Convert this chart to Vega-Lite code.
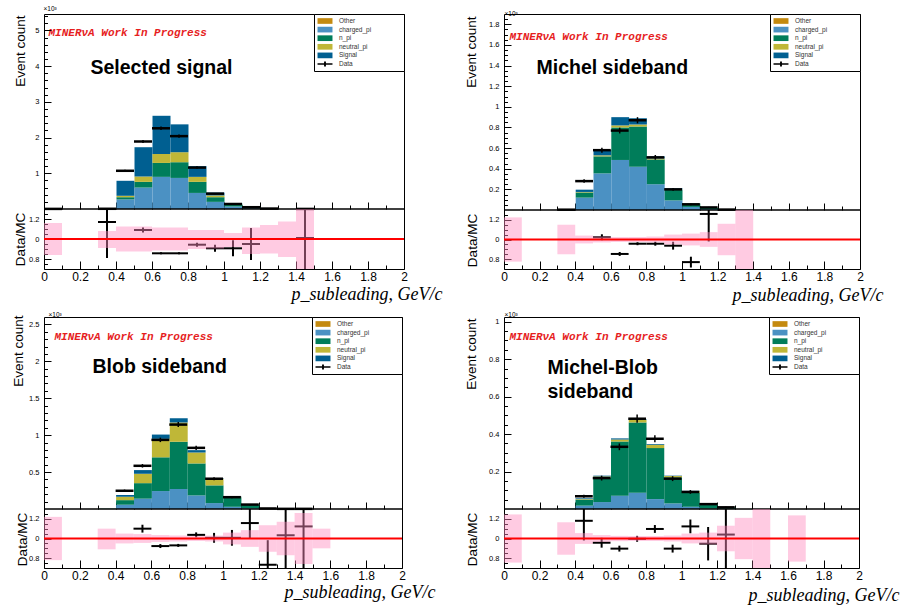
{
"$schema": "https://vega.github.io/schema/vega-lite/v6.json",
"background": "white",
"padding": {"left": 10, "top": 4, "right": 0, "bottom": 0},
"autosize": {"type": "pad"},
"bounds": "flush",
"columns": 2,
"spacing": {"row": 48, "column": 100},
"config": {
 "font": "Liberation Sans",
 "view": {"stroke": "black", "strokeWidth": 1},
 "axis": {"domain": false, "grid": false, "tickColor": "black", "tickWidth": 1, "labelFont": "Liberation Sans", "labelColor": "black", "labelFontSize": 7.5, "titleFont": "Liberation Sans", "titleColor": "black", "titleFontWeight": "normal", "labelFlush": false, "labelOverlap": false, "labelBound": false, "zindex": 1},
 "legend": {"orient": "top-right", "offset": 0, "fillColor": "white", "strokeColor": "black", "padding": 3, "labelFontSize": 6.5, "labelColor": "#333333", "labelFont": "Liberation Sans", "symbolSize": 56, "symbolStrokeWidth": 0, "symbolOpacity": 1, "symbolOffset": 4, "labelOffset": 10, "rowPadding": 0.6, "titleOrient": "right", "titlePadding": 30, "titleFontSize": 6, "zindex": 2}
},
"datasets": {
 "mc": [
  {"p":1,"c":"Signal","k":4,"lo":0.3,"hi":0.4,"v":0.006},
  {"p":1,"c":"charged_pi","k":1,"lo":0.4,"hi":0.5,"v":0.27},{"p":1,"c":"n_pi","k":2,"lo":0.4,"hi":0.5,"v":0.06},{"p":1,"c":"neutral_pi","k":3,"lo":0.4,"hi":0.5,"v":0.04},{"p":1,"c":"Signal","k":4,"lo":0.4,"hi":0.5,"v":0.42},
  {"p":1,"c":"charged_pi","k":1,"lo":0.5,"hi":0.6,"v":0.60},{"p":1,"c":"n_pi","k":2,"lo":0.5,"hi":0.6,"v":0.16},{"p":1,"c":"neutral_pi","k":3,"lo":0.5,"hi":0.6,"v":0.15},{"p":1,"c":"Signal","k":4,"lo":0.5,"hi":0.6,"v":0.82},
  {"p":1,"c":"charged_pi","k":1,"lo":0.6,"hi":0.7,"v":0.90},{"p":1,"c":"n_pi","k":2,"lo":0.6,"hi":0.7,"v":0.39},{"p":1,"c":"neutral_pi","k":3,"lo":0.6,"hi":0.7,"v":0.25},{"p":1,"c":"Signal","k":4,"lo":0.6,"hi":0.7,"v":1.07},
  {"p":1,"c":"charged_pi","k":1,"lo":0.7,"hi":0.8,"v":0.87},{"p":1,"c":"n_pi","k":2,"lo":0.7,"hi":0.8,"v":0.44},{"p":1,"c":"neutral_pi","k":3,"lo":0.7,"hi":0.8,"v":0.28},{"p":1,"c":"Signal","k":4,"lo":0.7,"hi":0.8,"v":0.78},
  {"p":1,"c":"charged_pi","k":1,"lo":0.8,"hi":0.9,"v":0.45},{"p":1,"c":"n_pi","k":2,"lo":0.8,"hi":0.9,"v":0.31},{"p":1,"c":"neutral_pi","k":3,"lo":0.8,"hi":0.9,"v":0.14},{"p":1,"c":"Signal","k":4,"lo":0.8,"hi":0.9,"v":0.30},
  {"p":1,"c":"charged_pi","k":1,"lo":0.9,"hi":1.0,"v":0.20},{"p":1,"c":"n_pi","k":2,"lo":0.9,"hi":1.0,"v":0.13},{"p":1,"c":"neutral_pi","k":3,"lo":0.9,"hi":1.0,"v":0.05},{"p":1,"c":"Signal","k":4,"lo":0.9,"hi":1.0,"v":0.08},
  {"p":1,"c":"charged_pi","k":1,"lo":1.0,"hi":1.1,"v":0.07},{"p":1,"c":"n_pi","k":2,"lo":1.0,"hi":1.1,"v":0.05},{"p":1,"c":"neutral_pi","k":3,"lo":1.0,"hi":1.1,"v":0.01},{"p":1,"c":"Signal","k":4,"lo":1.0,"hi":1.1,"v":0.02},
  {"p":1,"c":"charged_pi","k":1,"lo":1.1,"hi":1.2,"v":0.02},{"p":1,"c":"n_pi","k":2,"lo":1.1,"hi":1.2,"v":0.02},{"p":1,"c":"neutral_pi","k":3,"lo":1.1,"hi":1.2,"v":0.003},{"p":1,"c":"Signal","k":4,"lo":1.1,"hi":1.2,"v":0.007},
  {"p":1,"c":"charged_pi","k":1,"lo":1.2,"hi":1.3,"v":0.004},{"p":1,"c":"n_pi","k":2,"lo":1.2,"hi":1.3,"v":0.004},{"p":1,"c":"neutral_pi","k":3,"lo":1.2,"hi":1.3,"v":0.001},{"p":1,"c":"Signal","k":4,"lo":1.2,"hi":1.3,"v":0.002},

  {"p":2,"c":"n_pi","k":2,"lo":0.3,"hi":0.4,"v":0.003},
  {"p":2,"c":"charged_pi","k":1,"lo":0.4,"hi":0.5,"v":0.12},{"p":2,"c":"n_pi","k":2,"lo":0.4,"hi":0.5,"v":0.05},{"p":2,"c":"neutral_pi","k":3,"lo":0.4,"hi":0.5,"v":0.005},{"p":2,"c":"Signal","k":4,"lo":0.4,"hi":0.5,"v":0.022},
  {"p":2,"c":"charged_pi","k":1,"lo":0.5,"hi":0.6,"v":0.355},{"p":2,"c":"n_pi","k":2,"lo":0.5,"hi":0.6,"v":0.165},{"p":2,"c":"neutral_pi","k":3,"lo":0.5,"hi":0.6,"v":0.01},{"p":2,"c":"Signal","k":4,"lo":0.5,"hi":0.6,"v":0.05},
  {"p":2,"c":"charged_pi","k":1,"lo":0.6,"hi":0.7,"v":0.485},{"p":2,"c":"n_pi","k":2,"lo":0.6,"hi":0.7,"v":0.315},{"p":2,"c":"neutral_pi","k":3,"lo":0.6,"hi":0.7,"v":0.02},{"p":2,"c":"Signal","k":4,"lo":0.6,"hi":0.7,"v":0.08},
  {"p":2,"c":"charged_pi","k":1,"lo":0.7,"hi":0.8,"v":0.42},{"p":2,"c":"n_pi","k":2,"lo":0.7,"hi":0.8,"v":0.39},{"p":2,"c":"neutral_pi","k":3,"lo":0.7,"hi":0.8,"v":0.02},{"p":2,"c":"Signal","k":4,"lo":0.7,"hi":0.8,"v":0.06},
  {"p":2,"c":"charged_pi","k":1,"lo":0.8,"hi":0.9,"v":0.25},{"p":2,"c":"n_pi","k":2,"lo":0.8,"hi":0.9,"v":0.24},{"p":2,"c":"neutral_pi","k":3,"lo":0.8,"hi":0.9,"v":0.01},{"p":2,"c":"Signal","k":4,"lo":0.8,"hi":0.9,"v":0.02},
  {"p":2,"c":"charged_pi","k":1,"lo":0.9,"hi":1.0,"v":0.093},{"p":2,"c":"n_pi","k":2,"lo":0.9,"hi":1.0,"v":0.104},{"p":2,"c":"neutral_pi","k":3,"lo":0.9,"hi":1.0,"v":0.003},{"p":2,"c":"Signal","k":4,"lo":0.9,"hi":1.0,"v":0.01},
  {"p":2,"c":"charged_pi","k":1,"lo":1.0,"hi":1.1,"v":0.03},{"p":2,"c":"n_pi","k":2,"lo":1.0,"hi":1.1,"v":0.03},{"p":2,"c":"neutral_pi","k":3,"lo":1.0,"hi":1.1,"v":0.002},{"p":2,"c":"Signal","k":4,"lo":1.0,"hi":1.1,"v":0.003},
  {"p":2,"c":"charged_pi","k":1,"lo":1.1,"hi":1.2,"v":0.008},{"p":2,"c":"n_pi","k":2,"lo":1.1,"hi":1.2,"v":0.012},{"p":2,"c":"neutral_pi","k":3,"lo":1.1,"hi":1.2,"v":0.001},{"p":2,"c":"Signal","k":4,"lo":1.1,"hi":1.2,"v":0.001},
  {"p":2,"c":"charged_pi","k":1,"lo":1.2,"hi":1.3,"v":0.001},{"p":2,"c":"n_pi","k":2,"lo":1.2,"hi":1.3,"v":0.003},

  {"p":3,"c":"n_pi","k":2,"lo":0.3,"hi":0.4,"v":0.004},
  {"p":3,"c":"charged_pi","k":1,"lo":0.4,"hi":0.5,"v":0.058},{"p":3,"c":"n_pi","k":2,"lo":0.4,"hi":0.5,"v":0.062},{"p":3,"c":"neutral_pi","k":3,"lo":0.4,"hi":0.5,"v":0.046},{"p":3,"c":"Signal","k":4,"lo":0.4,"hi":0.5,"v":0.024},
  {"p":3,"c":"charged_pi","k":1,"lo":0.5,"hi":0.6,"v":0.14},{"p":3,"c":"n_pi","k":2,"lo":0.5,"hi":0.6,"v":0.21},{"p":3,"c":"neutral_pi","k":3,"lo":0.5,"hi":0.6,"v":0.127},{"p":3,"c":"Signal","k":4,"lo":0.5,"hi":0.6,"v":0.05},
  {"p":3,"c":"charged_pi","k":1,"lo":0.6,"hi":0.7,"v":0.243},{"p":3,"c":"n_pi","k":2,"lo":0.6,"hi":0.7,"v":0.457},{"p":3,"c":"neutral_pi","k":3,"lo":0.6,"hi":0.7,"v":0.25},{"p":3,"c":"Signal","k":4,"lo":0.6,"hi":0.7,"v":0.058},
  {"p":3,"c":"charged_pi","k":1,"lo":0.7,"hi":0.8,"v":0.27},{"p":3,"c":"n_pi","k":2,"lo":0.7,"hi":0.8,"v":0.64},{"p":3,"c":"neutral_pi","k":3,"lo":0.7,"hi":0.8,"v":0.26},{"p":3,"c":"Signal","k":4,"lo":0.7,"hi":0.8,"v":0.06},
  {"p":3,"c":"charged_pi","k":1,"lo":0.8,"hi":0.9,"v":0.184},{"p":3,"c":"n_pi","k":2,"lo":0.8,"hi":0.9,"v":0.433},{"p":3,"c":"neutral_pi","k":3,"lo":0.8,"hi":0.9,"v":0.148},{"p":3,"c":"Signal","k":4,"lo":0.8,"hi":0.9,"v":0.032},
  {"p":3,"c":"charged_pi","k":1,"lo":0.9,"hi":1.0,"v":0.08},{"p":3,"c":"n_pi","k":2,"lo":0.9,"hi":1.0,"v":0.24},{"p":3,"c":"neutral_pi","k":3,"lo":0.9,"hi":1.0,"v":0.09},{"p":3,"c":"Signal","k":4,"lo":0.9,"hi":1.0,"v":0.01},
  {"p":3,"c":"charged_pi","k":1,"lo":1.0,"hi":1.1,"v":0.03},{"p":3,"c":"n_pi","k":2,"lo":1.0,"hi":1.1,"v":0.13},{"p":3,"c":"neutral_pi","k":3,"lo":1.0,"hi":1.1,"v":0.005},{"p":3,"c":"Signal","k":4,"lo":1.0,"hi":1.1,"v":0.005},
  {"p":3,"c":"charged_pi","k":1,"lo":1.1,"hi":1.2,"v":0.01},{"p":3,"c":"n_pi","k":2,"lo":1.1,"hi":1.2,"v":0.05},{"p":3,"c":"neutral_pi","k":3,"lo":1.1,"hi":1.2,"v":0.004},{"p":3,"c":"Signal","k":4,"lo":1.1,"hi":1.2,"v":0.003},
  {"p":3,"c":"charged_pi","k":1,"lo":1.2,"hi":1.3,"v":0.002},{"p":3,"c":"n_pi","k":2,"lo":1.2,"hi":1.3,"v":0.006},{"p":3,"c":"neutral_pi","k":3,"lo":1.2,"hi":1.3,"v":0.001},{"p":3,"c":"Signal","k":4,"lo":1.2,"hi":1.3,"v":0.001},

  {"p":4,"c":"n_pi","k":2,"lo":0.3,"hi":0.4,"v":0.002},
  {"p":4,"c":"charged_pi","k":1,"lo":0.4,"hi":0.5,"v":0.018},{"p":4,"c":"n_pi","k":2,"lo":0.4,"hi":0.5,"v":0.032},{"p":4,"c":"neutral_pi","k":3,"lo":0.4,"hi":0.5,"v":0.003},{"p":4,"c":"Signal","k":4,"lo":0.4,"hi":0.5,"v":0.004},
  {"p":4,"c":"charged_pi","k":1,"lo":0.5,"hi":0.6,"v":0.037},{"p":4,"c":"n_pi","k":2,"lo":0.5,"hi":0.6,"v":0.132},{"p":4,"c":"neutral_pi","k":3,"lo":0.5,"hi":0.6,"v":0.005},{"p":4,"c":"Signal","k":4,"lo":0.5,"hi":0.6,"v":0.004},
  {"p":4,"c":"charged_pi","k":1,"lo":0.6,"hi":0.7,"v":0.071},{"p":4,"c":"n_pi","k":2,"lo":0.6,"hi":0.7,"v":0.289},{"p":4,"c":"neutral_pi","k":3,"lo":0.6,"hi":0.7,"v":0.011},{"p":4,"c":"Signal","k":4,"lo":0.6,"hi":0.7,"v":0.006},
  {"p":4,"c":"charged_pi","k":1,"lo":0.7,"hi":0.8,"v":0.087},{"p":4,"c":"n_pi","k":2,"lo":0.7,"hi":0.8,"v":0.375},{"p":4,"c":"neutral_pi","k":3,"lo":0.7,"hi":0.8,"v":0.014},{"p":4,"c":"Signal","k":4,"lo":0.7,"hi":0.8,"v":0.004},
  {"p":4,"c":"charged_pi","k":1,"lo":0.8,"hi":0.9,"v":0.053},{"p":4,"c":"n_pi","k":2,"lo":0.8,"hi":0.9,"v":0.272},{"p":4,"c":"neutral_pi","k":3,"lo":0.8,"hi":0.9,"v":0.018},{"p":4,"c":"Signal","k":4,"lo":0.8,"hi":0.9,"v":0.004},
  {"p":4,"c":"charged_pi","k":1,"lo":0.9,"hi":1.0,"v":0.03},{"p":4,"c":"n_pi","k":2,"lo":0.9,"hi":1.0,"v":0.139},{"p":4,"c":"neutral_pi","k":3,"lo":0.9,"hi":1.0,"v":0.007},{"p":4,"c":"Signal","k":4,"lo":0.9,"hi":1.0,"v":0.002},
  {"p":4,"c":"charged_pi","k":1,"lo":1.0,"hi":1.1,"v":0.012},{"p":4,"c":"n_pi","k":2,"lo":1.0,"hi":1.1,"v":0.075},{"p":4,"c":"neutral_pi","k":3,"lo":1.0,"hi":1.1,"v":0.009},{"p":4,"c":"Signal","k":4,"lo":1.0,"hi":1.1,"v":0.001},
  {"p":4,"c":"charged_pi","k":1,"lo":1.1,"hi":1.2,"v":0.002},{"p":4,"c":"n_pi","k":2,"lo":1.1,"hi":1.2,"v":0.023},{"p":4,"c":"neutral_pi","k":3,"lo":1.1,"hi":1.2,"v":0.001},{"p":4,"c":"Signal","k":4,"lo":1.1,"hi":1.2,"v":0.001},
  {"p":4,"c":"charged_pi","k":1,"lo":1.2,"hi":1.3,"v":0.001},{"p":4,"c":"n_pi","k":2,"lo":1.2,"hi":1.3,"v":0.008}
 ],
 "dat": [
  {"p":1,"lo":0.0,"hi":0.1,"x":0.05,"v":0.003,"e":0.003},{"p":1,"lo":0.3,"hi":0.4,"x":0.35,"v":0.006,"e":0.004},{"p":1,"lo":0.4,"hi":0.5,"x":0.45,"v":1.07,"e":0.03},{"p":1,"lo":0.5,"hi":0.6,"x":0.55,"v":1.89,"e":0.04},{"p":1,"lo":0.6,"hi":0.7,"x":0.65,"v":2.26,"e":0.05},{"p":1,"lo":0.7,"hi":0.8,"x":0.75,"v":2.04,"e":0.045},{"p":1,"lo":0.8,"hi":0.9,"x":0.85,"v":1.16,"e":0.035},{"p":1,"lo":0.9,"hi":1.0,"x":0.95,"v":0.43,"e":0.02},{"p":1,"lo":1.0,"hi":1.1,"x":1.05,"v":0.14,"e":0.012},{"p":1,"lo":1.1,"hi":1.2,"x":1.15,"v":0.05,"e":0.007},{"p":1,"lo":1.2,"hi":1.3,"x":1.25,"v":0.012,"e":0.004},{"p":1,"lo":1.4,"hi":1.5,"x":1.45,"v":0.002,"e":0.002},
  {"p":2,"lo":0.3,"hi":0.4,"x":0.35,"v":0.003,"e":0.002},{"p":2,"lo":0.4,"hi":0.5,"x":0.45,"v":0.28,"e":0.017},{"p":2,"lo":0.5,"hi":0.6,"x":0.55,"v":0.58,"e":0.024},{"p":2,"lo":0.6,"hi":0.7,"x":0.65,"v":0.77,"e":0.028},{"p":2,"lo":0.7,"hi":0.8,"x":0.75,"v":0.87,"e":0.03},{"p":2,"lo":0.8,"hi":0.9,"x":0.85,"v":0.51,"e":0.023},{"p":2,"lo":0.9,"hi":1.0,"x":0.95,"v":0.20,"e":0.014},{"p":2,"lo":1.0,"hi":1.1,"x":1.05,"v":0.055,"e":0.008},{"p":2,"lo":1.1,"hi":1.2,"x":1.15,"v":0.025,"e":0.005},{"p":2,"lo":1.2,"hi":1.3,"x":1.25,"v":0.004,"e":0.002},
  {"p":3,"lo":0.4,"hi":0.5,"x":0.45,"v":0.247,"e":0.016},{"p":3,"lo":0.5,"hi":0.6,"x":0.55,"v":0.585,"e":0.024},{"p":3,"lo":0.6,"hi":0.7,"x":0.65,"v":0.936,"e":0.03},{"p":3,"lo":0.7,"hi":0.8,"x":0.75,"v":1.143,"e":0.034},{"p":3,"lo":0.8,"hi":0.9,"x":0.85,"v":0.828,"e":0.029},{"p":3,"lo":0.9,"hi":1.0,"x":0.95,"v":0.41,"e":0.02},{"p":3,"lo":1.0,"hi":1.1,"x":1.05,"v":0.16,"e":0.013},{"p":3,"lo":1.1,"hi":1.2,"x":1.15,"v":0.06,"e":0.008},{"p":3,"lo":1.2,"hi":1.3,"x":1.25,"v":0.007,"e":0.003},{"p":3,"lo":1.3,"hi":1.4,"x":1.35,"v":0.002,"e":0.002},{"p":3,"lo":1.4,"hi":1.5,"x":1.45,"v":0.002,"e":0.002},
  {"p":4,"lo":0.4,"hi":0.5,"x":0.45,"v":0.068,"e":0.008},{"p":4,"lo":0.5,"hi":0.6,"x":0.55,"v":0.165,"e":0.013},{"p":4,"lo":0.6,"hi":0.7,"x":0.65,"v":0.332,"e":0.018},{"p":4,"lo":0.7,"hi":0.8,"x":0.75,"v":0.482,"e":0.022},{"p":4,"lo":0.8,"hi":0.9,"x":0.85,"v":0.375,"e":0.019},{"p":4,"lo":0.9,"hi":1.0,"x":0.95,"v":0.162,"e":0.013},{"p":4,"lo":1.0,"hi":1.1,"x":1.05,"v":0.091,"e":0.01},{"p":4,"lo":1.1,"hi":1.2,"x":1.15,"v":0.026,"e":0.005},{"p":4,"lo":1.2,"hi":1.3,"x":1.25,"v":0.009,"e":0.003}
 ],
 "band": [
  {"p":1,"lo":0.0,"hi":0.1,"b0":0.84,"b1":1.16},{"p":1,"lo":0.3,"hi":0.4,"b0":0.91,"b1":1.08},{"p":1,"lo":0.4,"hi":0.5,"b0":0.875,"b1":1.125},{"p":1,"lo":0.5,"hi":0.6,"b0":0.875,"b1":1.125},{"p":1,"lo":0.6,"hi":0.7,"b0":0.885,"b1":1.115},{"p":1,"lo":0.7,"hi":0.8,"b0":0.885,"b1":1.115},{"p":1,"lo":0.8,"hi":0.9,"b0":0.9,"b1":1.09},{"p":1,"lo":0.9,"hi":1.0,"b0":0.905,"b1":1.09},{"p":1,"lo":1.0,"hi":1.1,"b0":0.92,"b1":1.06},{"p":1,"lo":1.1,"hi":1.2,"b0":0.85,"b1":1.115},{"p":1,"lo":1.2,"hi":1.3,"b0":0.855,"b1":1.14},{"p":1,"lo":1.3,"hi":1.4,"b0":0.82,"b1":1.175},{"p":1,"lo":1.4,"hi":1.5,"b0":0.6,"b1":1.4},
  {"p":2,"lo":0.0,"hi":0.1,"b0":0.775,"b1":1.225},{"p":2,"lo":0.3,"hi":0.4,"b0":0.85,"b1":1.15},{"p":2,"lo":0.4,"hi":0.5,"b0":0.96,"b1":1.04},{"p":2,"lo":0.5,"hi":0.6,"b0":0.97,"b1":1.03},{"p":2,"lo":0.6,"hi":0.7,"b0":0.975,"b1":1.025},{"p":2,"lo":0.7,"hi":0.8,"b0":0.975,"b1":1.025},{"p":2,"lo":0.8,"hi":0.9,"b0":0.97,"b1":1.03},{"p":2,"lo":0.9,"hi":1.0,"b0":0.95,"b1":1.05},{"p":2,"lo":1.0,"hi":1.1,"b0":0.94,"b1":1.06},{"p":2,"lo":1.1,"hi":1.2,"b0":0.925,"b1":1.075},{"p":2,"lo":1.2,"hi":1.3,"b0":0.84,"b1":1.16},{"p":2,"lo":1.3,"hi":1.4,"b0":0.6,"b1":1.4},
  {"p":3,"lo":0.0,"hi":0.1,"b0":0.78,"b1":1.22},{"p":3,"lo":0.3,"hi":0.4,"b0":0.89,"b1":1.1},{"p":3,"lo":0.4,"hi":0.5,"b0":0.95,"b1":1.05},{"p":3,"lo":0.5,"hi":0.6,"b0":0.955,"b1":1.045},{"p":3,"lo":0.6,"hi":0.7,"b0":0.965,"b1":1.035},{"p":3,"lo":0.7,"hi":0.8,"b0":0.97,"b1":1.03},{"p":3,"lo":0.8,"hi":0.9,"b0":0.975,"b1":1.025},{"p":3,"lo":0.9,"hi":1.0,"b0":0.97,"b1":1.03},{"p":3,"lo":1.0,"hi":1.1,"b0":0.94,"b1":1.06},{"p":3,"lo":1.1,"hi":1.2,"b0":0.915,"b1":1.085},{"p":3,"lo":1.2,"hi":1.3,"b0":0.865,"b1":1.135},{"p":3,"lo":1.3,"hi":1.4,"b0":0.83,"b1":1.17},{"p":3,"lo":1.4,"hi":1.5,"b0":0.74,"b1":1.26},{"p":3,"lo":1.5,"hi":1.6,"b0":0.9,"b1":1.1},
  {"p":4,"lo":0.0,"hi":0.1,"b0":0.755,"b1":1.245},{"p":4,"lo":0.3,"hi":0.4,"b0":0.835,"b1":1.165},{"p":4,"lo":0.4,"hi":0.5,"b0":0.945,"b1":1.055},{"p":4,"lo":0.5,"hi":0.6,"b0":0.965,"b1":1.035},{"p":4,"lo":0.6,"hi":0.7,"b0":0.973,"b1":1.027},{"p":4,"lo":0.7,"hi":0.8,"b0":0.975,"b1":1.025},{"p":4,"lo":0.8,"hi":0.9,"b0":0.975,"b1":1.025},{"p":4,"lo":0.9,"hi":1.0,"b0":0.97,"b1":1.03},{"p":4,"lo":1.0,"hi":1.1,"b0":0.95,"b1":1.05},{"p":4,"lo":1.1,"hi":1.2,"b0":0.94,"b1":1.06},{"p":4,"lo":1.2,"hi":1.3,"b0":0.87,"b1":1.13},{"p":4,"lo":1.3,"hi":1.4,"b0":0.79,"b1":1.21},{"p":4,"lo":1.4,"hi":1.5,"b0":0.6,"b1":1.4},{"p":4,"lo":1.6,"hi":1.7,"b0":0.765,"b1":1.235}
 ],
 "rat": [
  {"p":1,"lo":0.3,"hi":0.4,"x":0.35,"r":1.17,"e":0.36},{"p":1,"lo":0.5,"hi":0.6,"x":0.55,"r":1.09,"e":0.025},{"p":1,"lo":0.6,"hi":0.7,"x":0.65,"r":0.857,"e":0.01},{"p":1,"lo":0.7,"hi":0.8,"x":0.75,"r":0.857,"e":0.01},{"p":1,"lo":0.8,"hi":0.9,"x":0.85,"r":0.943,"e":0.02},{"p":1,"lo":0.9,"hi":1.0,"x":0.95,"r":0.907,"e":0.035},{"p":1,"lo":1.0,"hi":1.1,"x":1.05,"r":0.907,"e":0.08},{"p":1,"lo":1.1,"hi":1.2,"x":1.15,"r":0.95,"e":0.16},{"p":1,"lo":1.4,"hi":1.5,"x":1.45,"r":1.01,"e":0.6},
  {"p":2,"lo":0.5,"hi":0.6,"x":0.55,"r":1.023,"e":0.03},{"p":2,"lo":0.6,"hi":0.7,"x":0.65,"r":0.853,"e":0.02},{"p":2,"lo":0.7,"hi":0.8,"x":0.75,"r":0.957,"e":0.015},{"p":2,"lo":0.8,"hi":0.9,"x":0.85,"r":0.957,"e":0.02},{"p":2,"lo":0.9,"hi":1.0,"x":0.95,"r":0.937,"e":0.04},{"p":2,"lo":1.0,"hi":1.1,"x":1.05,"r":0.77,"e":0.055},{"p":2,"lo":1.1,"hi":1.2,"x":1.15,"r":1.26,"e":0.28},
  {"p":3,"lo":0.5,"hi":0.6,"x":0.55,"r":1.1,"e":0.04},{"p":3,"lo":0.6,"hi":0.7,"x":0.65,"r":0.923,"e":0.02},{"p":3,"lo":0.7,"hi":0.8,"x":0.75,"r":0.93,"e":0.015},{"p":3,"lo":0.8,"hi":0.9,"x":0.85,"r":1.037,"e":0.025},{"p":3,"lo":0.9,"hi":1.0,"x":0.95,"r":1.007,"e":0.05},{"p":3,"lo":1.0,"hi":1.1,"x":1.05,"r":1.007,"e":0.08},{"p":3,"lo":1.1,"hi":1.2,"x":1.15,"r":1.157,"e":0.16},{"p":3,"lo":1.2,"hi":1.3,"x":1.25,"r":0.733,"e":0.25},{"p":3,"lo":1.3,"hi":1.4,"x":1.35,"r":1.033,"e":0.5},{"p":3,"lo":1.4,"hi":1.5,"x":1.45,"r":1.123,"e":0.5},
  {"p":4,"lo":0.4,"hi":0.5,"x":0.45,"r":1.18,"e":0.2},{"p":4,"lo":0.5,"hi":0.6,"x":0.55,"r":0.957,"e":0.05},{"p":4,"lo":0.6,"hi":0.7,"x":0.65,"r":0.897,"e":0.03},{"p":4,"lo":0.7,"hi":0.8,"x":0.75,"r":0.997,"e":0.03},{"p":4,"lo":0.8,"hi":0.9,"x":0.85,"r":1.097,"e":0.04},{"p":4,"lo":0.9,"hi":1.0,"x":0.95,"r":0.897,"e":0.04},{"p":4,"lo":1.0,"hi":1.1,"x":1.05,"r":1.123,"e":0.07},{"p":4,"lo":1.1,"hi":1.2,"x":1.15,"r":0.947,"e":0.17},{"p":4,"lo":1.2,"hi":1.3,"x":1.25,"r":1.04,"e":0.6}
 ]
},
"resolve": {"scale": {"x": "independent", "y": "independent", "color": "independent"}, "legend": {"color": "independent"}, "axis": {"x": "independent", "y": "independent"}},
"concat": [
 {
  "width": 360, "height": 255,
  "layer": [
   {"data": {"name": "mc"}, "transform": [{"filter": "datum.p == 1"}],
    "mark": {"type": "bar", "binSpacing": 0},
    "encoding": {
     "x": {"field": "lo", "type": "quantitative", "bin": "binned", "scale": {"domain": [0, 2], "nice": false, "zero": false}, "axis": {"orient": "bottom", "offset": -60, "values": [0,0.2,0.4,0.6,0.8,1,1.2,1.4,1.6,1.8,2], "labels": false, "tickSize": -7, "title": null}},
     "x2": {"field": "hi"},
     "y": {"field": "v", "type": "quantitative", "stack": "zero", "scale": {"domain": [0, 5.46], "range": [195, 0], "nice": false, "zero": false}, "axis": {"orient": "left", "values": [1,2,3,4,5], "format": "~g", "tickSize": -7, "labelPadding": 12, "title": "Event count", "titleFontSize": 13.5, "titleAngle": 270, "titleX": -24, "titleY": 1, "titleAlign": "right", "titleBaseline": "middle"}},
     "color": {"field": "c", "type": "nominal", "scale": {"domain": ["Other","charged_pi","n_pi","neutral_pi","Signal","Data"], "range": ["#c48a10","#4b91c3","#007d5a","#bfb737","#005f91","#000000"]},
      "legend": {"title": " ", "symbolType": "M-2,-0.76H2V0.76H-2Z", "encode": {"symbols": {"update": {"shape": {"signal": "datum.label === 'Data' ? 'M-2,-0.2H2V0.2H-2Z M-0.25,-0.65H0.25V0.65H-0.25Z' : 'M-2,-0.76H2V0.76H-2Z'"}}}}}},
     "order": {"field": "k", "type": "quantitative"}
    }},
   {"data": {"name": "dat"}, "transform": [{"filter": "datum.p == 1"}],
    "mark": {"type": "rule", "color": "black", "strokeWidth": 2.5},
    "encoding": {
     "x": {"field": "lo", "type": "quantitative", "scale": {"domain": [0, 2], "nice": false, "zero": false}, "axis": {"orient": "bottom", "offset": -60, "values": [0.1,0.3,0.5,0.7,0.9,1.1,1.3,1.5,1.7,1.9], "labels": false, "tickSize": -4, "title": "Selected signal", "titleX": 46, "titleY": -142, "titleAlign": "left", "titleBaseline": "middle", "titleAngle": 0, "titleFontSize": 19.5, "titleFontWeight": "bold"}},
     "x2": {"field": "hi"},
     "y": {"field": "v", "type": "quantitative", "scale": {"domain": [0, 5.46], "range": [195, 0], "nice": false, "zero": false}, "axis": {"orient": "left", "values": [0.2,0.4,0.6,0.8,1.2,1.4,1.6,1.8,2.2,2.4,2.6,2.8,3.2,3.4,3.6,3.8,4.2,4.4,4.6,4.8,5.2,5.4], "labels": false, "tickSize": -3.5, "title": "×10³", "titleAngle": 0, "titleX": -1, "titleY": -6, "titleAlign": "left", "titleBaseline": "middle", "titleFontSize": 6.5}}
    }},
   {"data": {"name": "dat"}, "transform": [{"filter": "datum.p == 1"}],
    "mark": {"type": "errorbar", "color": "black", "thickness": 1.5},
    "encoding": {
     "x": {"field": "x", "type": "quantitative", "scale": {"domain": [0, 2], "nice": false, "zero": false}, "axis": {"orient": "top", "ticks": false, "labels": false, "title": "MINERνA Work In Progress", "titleX": 4, "titleY": 18, "titleAlign": "left", "titleBaseline": "middle", "titleAngle": 0, "titleFont": "Liberation Mono", "titleFontSize": 11, "titleFontWeight": "bold", "titleFontStyle": "italic", "titleColor": "#e61e1e"}},
     "y": {"field": "v", "type": "quantitative", "scale": {"domain": [0, 5.46], "range": [195, 0], "nice": false, "zero": false}, "axis": null},
     "yError": {"field": "e"}
    }},
   {"data": {"values": [{}]},
    "mark": {"type": "rule", "color": "black", "strokeWidth": 1.5},
    "encoding": {"y": {"datum": 0, "type": "quantitative", "scale": {"domain": [0, 5.46], "range": [195, 0], "nice": false, "zero": false}, "axis": null}}},
   {"data": {"name": "rat"}, "transform": [{"filter": "datum.p == 1"}],
    "mark": {"type": "rule", "color": "black", "strokeWidth": 2},
    "encoding": {
     "x": {"field": "lo", "type": "quantitative", "scale": {"domain": [0, 2], "nice": false, "zero": false}, "axis": {"orient": "bottom", "values": [0,0.2,0.4,0.6,0.8,1,1.2,1.4,1.6,1.8,2], "format": "~g", "tickSize": -8, "labelFontSize": 12, "labelPadding": 10, "title": "p_subleading, GeV/c", "titleFont": "Liberation Serif", "titleFontStyle": "italic", "titleFontSize": 18, "titleX": 398, "titleY": 30, "titleAlign": "right", "titleBaseline": "alphabetic", "titleAngle": 0}},
     "x2": {"field": "hi"},
     "y": {"field": "r", "type": "quantitative", "scale": {"domain": [0.7, 1.3], "range": [255, 195], "nice": false, "zero": false, "clamp": true}, "axis": {"orient": "left", "values": [0.8, 1, 1.2], "labelExpr": "datum.value == 1 ? '0' : format(datum.value, '.1f')", "tickSize": -7, "labelPadding": 12, "title": "Data/MC", "titleFontSize": 13.5, "titleAngle": 270, "titleX": -24, "titleY": 225, "titleAlign": "center", "titleBaseline": "middle"}}
    }},
   {"data": {"name": "rat"}, "transform": [{"filter": "datum.p == 1"}],
    "mark": {"type": "errorbar", "color": "black", "thickness": 2},
    "encoding": {
     "x": {"field": "x", "type": "quantitative", "scale": {"domain": [0, 2], "nice": false, "zero": false}, "axis": {"orient": "bottom", "values": [0.1,0.3,0.5,0.7,0.9,1.1,1.3,1.5,1.7,1.9], "labels": false, "tickSize": -4, "title": null}},
     "y": {"field": "r", "type": "quantitative", "scale": {"domain": [0.7, 1.3], "range": [255, 195], "nice": false, "zero": false, "clamp": true}, "axis": {"orient": "left", "values": [0.75,0.85,0.9,0.95,1.05,1.1,1.15,1.25], "labels": false, "tickSize": -3.5, "title": null}},
     "yError": {"field": "e"}
    }},
   {"data": {"name": "band"}, "transform": [{"filter": "datum.p == 1"}],
    "mark": {"type": "rect", "color": "#ff8cbe", "opacity": 0.45},
    "encoding": {
     "x": {"field": "lo", "type": "quantitative", "scale": {"domain": [0, 2], "nice": false, "zero": false}, "axis": null},
     "x2": {"field": "hi"},
     "y": {"field": "b0", "type": "quantitative", "scale": {"domain": [0.7, 1.3], "range": [255, 195], "nice": false, "zero": false, "clamp": true}, "axis": null},
     "y2": {"field": "b1"}
    }},
   {"data": {"values": [{}]},
    "mark": {"type": "rule", "color": "#ff0000", "strokeWidth": 2},
    "encoding": {"y": {"datum": 1, "type": "quantitative", "scale": {"domain": [0.7, 1.3], "range": [255, 195], "nice": false, "zero": false, "clamp": true}, "axis": null}}}
  ],
  "resolve": {"scale": {"y": "independent"}, "axis": {"x": "independent", "y": "independent"}}
 },
 {
  "width": 356, "height": 255,
  "layer": [
   {"data": {"name": "mc"}, "transform": [{"filter": "datum.p == 2"}],
    "mark": {"type": "bar", "binSpacing": 0},
    "encoding": {
     "x": {"field": "lo", "type": "quantitative", "bin": "binned", "scale": {"domain": [0, 2], "nice": false, "zero": false}, "axis": {"orient": "bottom", "offset": -59, "values": [0,0.2,0.4,0.6,0.8,1,1.2,1.4,1.6,1.8,2], "labels": false, "tickSize": -7, "title": null}},
     "x2": {"field": "hi"},
     "y": {"field": "v", "type": "quantitative", "stack": "zero", "scale": {"domain": [0, 1.9], "range": [196, 0], "nice": false, "zero": false}, "axis": {"orient": "left", "values": [0.2,0.4,0.6,0.8,1,1.2,1.4,1.6,1.8], "format": "~g", "tickSize": -7, "labelPadding": 12, "title": "Event count", "titleFontSize": 13.5, "titleAngle": 270, "titleX": -33, "titleY": 2, "titleAlign": "right", "titleBaseline": "middle"}},
     "color": {"field": "c", "type": "nominal", "scale": {"domain": ["Other","charged_pi","n_pi","neutral_pi","Signal","Data"], "range": ["#c48a10","#4b91c3","#007d5a","#bfb737","#005f91","#000000"]},
      "legend": {"title": " ", "symbolType": "M-2,-0.76H2V0.76H-2Z", "encode": {"symbols": {"update": {"shape": {"signal": "datum.label === 'Data' ? 'M-2,-0.2H2V0.2H-2Z M-0.25,-0.65H0.25V0.65H-0.25Z' : 'M-2,-0.76H2V0.76H-2Z'"}}}}}},
     "order": {"field": "k", "type": "quantitative"}
    }},
   {"data": {"name": "dat"}, "transform": [{"filter": "datum.p == 2"}],
    "mark": {"type": "rule", "color": "black", "strokeWidth": 2.5},
    "encoding": {
     "x": {"field": "lo", "type": "quantitative", "scale": {"domain": [0, 2], "nice": false, "zero": false}, "axis": {"orient": "bottom", "offset": -59, "values": [0.1,0.3,0.5,0.7,0.9,1.1,1.3,1.5,1.7,1.9], "labels": false, "tickSize": -4, "title": "Michel sideband", "titleX": 32, "titleY": -143, "titleAlign": "left", "titleBaseline": "middle", "titleAngle": 0, "titleFontSize": 19.5, "titleFontWeight": "bold"}},
     "x2": {"field": "hi"},
     "y": {"field": "v", "type": "quantitative", "scale": {"domain": [0, 1.9], "range": [196, 0], "nice": false, "zero": false}, "axis": {"orient": "left", "values": [0.05,0.1,0.15,0.25,0.3,0.35,0.45,0.5,0.55,0.65,0.7,0.75,0.85,0.9,0.95,1.05,1.1,1.15,1.25,1.3,1.35,1.45,1.5,1.55,1.65,1.7,1.75,1.85], "labels": false, "tickSize": -3.5, "title": "×10³", "titleAngle": 0, "titleX": 0, "titleY": -1, "titleAlign": "left", "titleBaseline": "middle", "titleFontSize": 6.5}}
    }},
   {"data": {"name": "dat"}, "transform": [{"filter": "datum.p == 2"}],
    "mark": {"type": "errorbar", "color": "black", "thickness": 1.5},
    "encoding": {
     "x": {"field": "x", "type": "quantitative", "scale": {"domain": [0, 2], "nice": false, "zero": false}, "axis": {"orient": "top", "ticks": false, "labels": false, "title": "MINERνA Work In Progress", "titleX": 5, "titleY": 22, "titleAlign": "left", "titleBaseline": "middle", "titleAngle": 0, "titleFont": "Liberation Mono", "titleFontSize": 11, "titleFontWeight": "bold", "titleFontStyle": "italic", "titleColor": "#e61e1e"}},
     "y": {"field": "v", "type": "quantitative", "scale": {"domain": [0, 1.9], "range": [196, 0], "nice": false, "zero": false}, "axis": null},
     "yError": {"field": "e"}
    }},
   {"data": {"values": [{}]},
    "mark": {"type": "rule", "color": "black", "strokeWidth": 1.5},
    "encoding": {"y": {"datum": 0, "type": "quantitative", "scale": {"domain": [0, 1.9], "range": [196, 0], "nice": false, "zero": false}, "axis": null}}},
   {"data": {"name": "rat"}, "transform": [{"filter": "datum.p == 2"}],
    "mark": {"type": "rule", "color": "black", "strokeWidth": 2},
    "encoding": {
     "x": {"field": "lo", "type": "quantitative", "scale": {"domain": [0, 2], "nice": false, "zero": false}, "axis": {"orient": "bottom", "values": [0,0.2,0.4,0.6,0.8,1,1.2,1.4,1.6,1.8,2], "format": "~g", "tickSize": -8, "labelFontSize": 12, "labelPadding": 10, "title": "p_subleading, GeV/c", "titleFont": "Liberation Serif", "titleFontStyle": "italic", "titleFontSize": 18, "titleX": 379, "titleY": 31, "titleAlign": "right", "titleBaseline": "alphabetic", "titleAngle": 0}},
     "x2": {"field": "hi"},
     "y": {"field": "r", "type": "quantitative", "scale": {"domain": [0.7, 1.3], "range": [255, 196], "nice": false, "zero": false, "clamp": true}, "axis": {"orient": "left", "values": [0.8, 1, 1.2], "labelExpr": "datum.value == 1 ? '0' : format(datum.value, '.1f')", "tickSize": -7, "labelPadding": 12, "title": "Data/MC", "titleFontSize": 13.5, "titleAngle": 270, "titleX": -32, "titleY": 226, "titleAlign": "center", "titleBaseline": "middle"}}
    }},
   {"data": {"name": "rat"}, "transform": [{"filter": "datum.p == 2"}],
    "mark": {"type": "errorbar", "color": "black", "thickness": 2},
    "encoding": {
     "x": {"field": "x", "type": "quantitative", "scale": {"domain": [0, 2], "nice": false, "zero": false}, "axis": {"orient": "bottom", "values": [0.1,0.3,0.5,0.7,0.9,1.1,1.3,1.5,1.7,1.9], "labels": false, "tickSize": -4, "title": null}},
     "y": {"field": "r", "type": "quantitative", "scale": {"domain": [0.7, 1.3], "range": [255, 196], "nice": false, "zero": false, "clamp": true}, "axis": {"orient": "left", "values": [0.75,0.85,0.9,0.95,1.05,1.1,1.15,1.25], "labels": false, "tickSize": -3.5, "title": null}},
     "yError": {"field": "e"}
    }},
   {"data": {"name": "band"}, "transform": [{"filter": "datum.p == 2"}],
    "mark": {"type": "rect", "color": "#ff8cbe", "opacity": 0.45},
    "encoding": {
     "x": {"field": "lo", "type": "quantitative", "scale": {"domain": [0, 2], "nice": false, "zero": false}, "axis": null},
     "x2": {"field": "hi"},
     "y": {"field": "b0", "type": "quantitative", "scale": {"domain": [0.7, 1.3], "range": [255, 196], "nice": false, "zero": false, "clamp": true}, "axis": null},
     "y2": {"field": "b1"}
    }},
   {"data": {"values": [{}]},
    "mark": {"type": "rule", "color": "#ff0000", "strokeWidth": 2},
    "encoding": {"y": {"datum": 1, "type": "quantitative", "scale": {"domain": [0.7, 1.3], "range": [255, 196], "nice": false, "zero": false, "clamp": true}, "axis": null}}}
  ],
  "resolve": {"scale": {"y": "independent"}, "axis": {"x": "independent", "y": "independent"}}
 },
 {
  "width": 358, "height": 251,
  "layer": [
   {"data": {"name": "mc"}, "transform": [{"filter": "datum.p == 3"}],
    "mark": {"type": "bar", "binSpacing": 0},
    "encoding": {
     "x": {"field": "lo", "type": "quantitative", "bin": "binned", "scale": {"domain": [0, 2], "nice": false, "zero": false}, "axis": {"orient": "bottom", "offset": -59, "values": [0,0.2,0.4,0.6,0.8,1,1.2,1.4,1.6,1.8,2], "labels": false, "tickSize": -7, "title": null}},
     "x2": {"field": "hi"},
     "y": {"field": "v", "type": "quantitative", "stack": "zero", "scale": {"domain": [0, 2.6], "range": [192, 0], "nice": false, "zero": false}, "axis": {"orient": "left", "values": [0.5,1,1.5,2,2.5], "format": "~g", "tickSize": -7, "labelPadding": 12, "title": "Event count", "titleFontSize": 13.5, "titleAngle": 270, "titleX": -26, "titleY": -2, "titleAlign": "right", "titleBaseline": "middle"}},
     "color": {"field": "c", "type": "nominal", "scale": {"domain": ["Other","charged_pi","n_pi","neutral_pi","Signal","Data"], "range": ["#c48a10","#4b91c3","#007d5a","#bfb737","#005f91","#000000"]},
      "legend": {"title": " ", "symbolType": "M-2,-0.76H2V0.76H-2Z", "encode": {"symbols": {"update": {"shape": {"signal": "datum.label === 'Data' ? 'M-2,-0.2H2V0.2H-2Z M-0.25,-0.65H0.25V0.65H-0.25Z' : 'M-2,-0.76H2V0.76H-2Z'"}}}}}},
     "order": {"field": "k", "type": "quantitative"}
    }},
   {"data": {"name": "dat"}, "transform": [{"filter": "datum.p == 3"}],
    "mark": {"type": "rule", "color": "black", "strokeWidth": 2.5},
    "encoding": {
     "x": {"field": "lo", "type": "quantitative", "scale": {"domain": [0, 2], "nice": false, "zero": false}, "axis": {"orient": "bottom", "offset": -59, "values": [0.1,0.3,0.5,0.7,0.9,1.1,1.3,1.5,1.7,1.9], "labels": false, "tickSize": -4, "title": "Blob sideband", "titleX": 48, "titleY": -143, "titleAlign": "left", "titleBaseline": "middle", "titleAngle": 0, "titleFontSize": 19.5, "titleFontWeight": "bold"}},
     "x2": {"field": "hi"},
     "y": {"field": "v", "type": "quantitative", "scale": {"domain": [0, 2.6], "range": [192, 0], "nice": false, "zero": false}, "axis": {"orient": "left", "values": [0.1,0.2,0.3,0.4,0.6,0.7,0.8,0.9,1.1,1.2,1.3,1.4,1.6,1.7,1.8,1.9,2.1,2.2,2.3,2.4], "labels": false, "tickSize": -3.5, "title": "×10³", "titleAngle": 0, "titleX": 4, "titleY": -3, "titleAlign": "left", "titleBaseline": "middle", "titleFontSize": 6.5}}
    }},
   {"data": {"name": "dat"}, "transform": [{"filter": "datum.p == 3"}],
    "mark": {"type": "errorbar", "color": "black", "thickness": 1.5},
    "encoding": {
     "x": {"field": "x", "type": "quantitative", "scale": {"domain": [0, 2], "nice": false, "zero": false}, "axis": {"orient": "top", "ticks": false, "labels": false, "title": "MINERνA Work In Progress", "titleX": 10, "titleY": 19, "titleAlign": "left", "titleBaseline": "middle", "titleAngle": 0, "titleFont": "Liberation Mono", "titleFontSize": 11, "titleFontWeight": "bold", "titleFontStyle": "italic", "titleColor": "#e61e1e"}},
     "y": {"field": "v", "type": "quantitative", "scale": {"domain": [0, 2.6], "range": [192, 0], "nice": false, "zero": false}, "axis": null},
     "yError": {"field": "e"}
    }},
   {"data": {"values": [{}]},
    "mark": {"type": "rule", "color": "black", "strokeWidth": 1.5},
    "encoding": {"y": {"datum": 0, "type": "quantitative", "scale": {"domain": [0, 2.6], "range": [192, 0], "nice": false, "zero": false}, "axis": null}}},
   {"data": {"name": "rat"}, "transform": [{"filter": "datum.p == 3"}],
    "mark": {"type": "rule", "color": "black", "strokeWidth": 2},
    "encoding": {
     "x": {"field": "lo", "type": "quantitative", "scale": {"domain": [0, 2], "nice": false, "zero": false}, "axis": {"orient": "bottom", "values": [0,0.2,0.4,0.6,0.8,1,1.2,1.4,1.6,1.8,2], "format": "~g", "tickSize": -8, "labelFontSize": 12, "labelPadding": 10, "title": "p_subleading, GeV/c", "titleFont": "Liberation Serif", "titleFontStyle": "italic", "titleFontSize": 18, "titleX": 391, "titleY": 29, "titleAlign": "right", "titleBaseline": "alphabetic", "titleAngle": 0}},
     "x2": {"field": "hi"},
     "y": {"field": "r", "type": "quantitative", "scale": {"domain": [0.7, 1.3], "range": [251, 192], "nice": false, "zero": false, "clamp": true}, "axis": {"orient": "left", "values": [0.8, 1, 1.2], "labelExpr": "datum.value == 1 ? '0' : format(datum.value, '.1f')", "tickSize": -7, "labelPadding": 12, "title": "Data/MC", "titleFontSize": 13.5, "titleAngle": 270, "titleX": -22, "titleY": 222, "titleAlign": "center", "titleBaseline": "middle"}}
    }},
   {"data": {"name": "rat"}, "transform": [{"filter": "datum.p == 3"}],
    "mark": {"type": "errorbar", "color": "black", "thickness": 2},
    "encoding": {
     "x": {"field": "x", "type": "quantitative", "scale": {"domain": [0, 2], "nice": false, "zero": false}, "axis": {"orient": "bottom", "values": [0.1,0.3,0.5,0.7,0.9,1.1,1.3,1.5,1.7,1.9], "labels": false, "tickSize": -4, "title": null}},
     "y": {"field": "r", "type": "quantitative", "scale": {"domain": [0.7, 1.3], "range": [251, 192], "nice": false, "zero": false, "clamp": true}, "axis": {"orient": "left", "values": [0.75,0.85,0.9,0.95,1.05,1.1,1.15,1.25], "labels": false, "tickSize": -3.5, "title": null}},
     "yError": {"field": "e"}
    }},
   {"data": {"name": "band"}, "transform": [{"filter": "datum.p == 3"}],
    "mark": {"type": "rect", "color": "#ff8cbe", "opacity": 0.45},
    "encoding": {
     "x": {"field": "lo", "type": "quantitative", "scale": {"domain": [0, 2], "nice": false, "zero": false}, "axis": null},
     "x2": {"field": "hi"},
     "y": {"field": "b0", "type": "quantitative", "scale": {"domain": [0.7, 1.3], "range": [251, 192], "nice": false, "zero": false, "clamp": true}, "axis": null},
     "y2": {"field": "b1"}
    }},
   {"data": {"values": [{}]},
    "mark": {"type": "rule", "color": "#ff0000", "strokeWidth": 2},
    "encoding": {"y": {"datum": 1, "type": "quantitative", "scale": {"domain": [0.7, 1.3], "range": [251, 192], "nice": false, "zero": false, "clamp": true}, "axis": null}}}
  ],
  "resolve": {"scale": {"y": "independent"}, "axis": {"x": "independent", "y": "independent"}}
 },
 {
  "width": 355, "height": 251,
  "layer": [
   {"data": {"name": "mc"}, "transform": [{"filter": "datum.p == 4"}],
    "mark": {"type": "bar", "binSpacing": 0},
    "encoding": {
     "x": {"field": "lo", "type": "quantitative", "bin": "binned", "scale": {"domain": [0, 2], "nice": false, "zero": false}, "axis": {"orient": "bottom", "offset": -59, "values": [0,0.2,0.4,0.6,0.8,1,1.2,1.4,1.6,1.8,2], "labels": false, "tickSize": -7, "title": null}},
     "x2": {"field": "hi"},
     "y": {"field": "v", "type": "quantitative", "stack": "zero", "scale": {"domain": [0, 1.025], "range": [192, 0], "nice": false, "zero": false}, "axis": {"orient": "left", "values": [0.2,0.4,0.6,0.8,1], "format": "~g", "tickSize": -7, "labelPadding": 12, "title": "Event count", "titleFontSize": 13.5, "titleAngle": 270, "titleX": -33, "titleY": 1, "titleAlign": "right", "titleBaseline": "middle"}},
     "color": {"field": "c", "type": "nominal", "scale": {"domain": ["Other","charged_pi","n_pi","neutral_pi","Signal","Data"], "range": ["#c48a10","#4b91c3","#007d5a","#bfb737","#005f91","#000000"]},
      "legend": {"title": " ", "symbolType": "M-2,-0.76H2V0.76H-2Z", "encode": {"symbols": {"update": {"shape": {"signal": "datum.label === 'Data' ? 'M-2,-0.2H2V0.2H-2Z M-0.25,-0.65H0.25V0.65H-0.25Z' : 'M-2,-0.76H2V0.76H-2Z'"}}}}}},
     "order": {"field": "k", "type": "quantitative"}
    }},
   {"data": {"name": "dat"}, "transform": [{"filter": "datum.p == 4"}],
    "mark": {"type": "rule", "color": "black", "strokeWidth": 2.5},
    "encoding": {
     "x": {"field": "lo", "type": "quantitative", "scale": {"domain": [0, 2], "nice": false, "zero": false}, "axis": {"orient": "bottom", "offset": -59, "values": [0.1,0.3,0.5,0.7,0.9,1.1,1.3,1.5,1.7,1.9], "labels": false, "tickSize": -4, "title": ["Michel-Blob", "sideband"], "titleLineHeight": 24, "titleX": 43, "titleY": -142, "titleAlign": "left", "titleBaseline": "middle", "titleAngle": 0, "titleFontSize": 19.5, "titleFontWeight": "bold"}},
     "x2": {"field": "hi"},
     "y": {"field": "v", "type": "quantitative", "scale": {"domain": [0, 1.025], "range": [192, 0], "nice": false, "zero": false}, "axis": {"orient": "left", "values": [0.05,0.1,0.15,0.25,0.3,0.35,0.45,0.5,0.55,0.65,0.7,0.75,0.85,0.9,0.95], "labels": false, "tickSize": -3.5, "title": "×10³", "titleAngle": 0, "titleX": 0, "titleY": -3, "titleAlign": "left", "titleBaseline": "middle", "titleFontSize": 6.5}}
    }},
   {"data": {"name": "dat"}, "transform": [{"filter": "datum.p == 4"}],
    "mark": {"type": "errorbar", "color": "black", "thickness": 1.5},
    "encoding": {
     "x": {"field": "x", "type": "quantitative", "scale": {"domain": [0, 2], "nice": false, "zero": false}, "axis": {"orient": "top", "ticks": false, "labels": false, "title": "MINERνA Work In Progress", "titleX": 5, "titleY": 19, "titleAlign": "left", "titleBaseline": "middle", "titleAngle": 0, "titleFont": "Liberation Mono", "titleFontSize": 11, "titleFontWeight": "bold", "titleFontStyle": "italic", "titleColor": "#e61e1e"}},
     "y": {"field": "v", "type": "quantitative", "scale": {"domain": [0, 1.025], "range": [192, 0], "nice": false, "zero": false}, "axis": null},
     "yError": {"field": "e"}
    }},
   {"data": {"values": [{}]},
    "mark": {"type": "rule", "color": "black", "strokeWidth": 1.5},
    "encoding": {"y": {"datum": 0, "type": "quantitative", "scale": {"domain": [0, 1.025], "range": [192, 0], "nice": false, "zero": false}, "axis": null}}},
   {"data": {"name": "rat"}, "transform": [{"filter": "datum.p == 4"}],
    "mark": {"type": "rule", "color": "black", "strokeWidth": 2},
    "encoding": {
     "x": {"field": "lo", "type": "quantitative", "scale": {"domain": [0, 2], "nice": false, "zero": false}, "axis": {"orient": "bottom", "values": [0,0.2,0.4,0.6,0.8,1,1.2,1.4,1.6,1.8,2], "format": "~g", "tickSize": -8, "labelFontSize": 12, "labelPadding": 10, "title": "p_subleading, GeV/c", "titleFont": "Liberation Serif", "titleFontStyle": "italic", "titleFontSize": 18, "titleX": 395, "titleY": 32, "titleAlign": "right", "titleBaseline": "alphabetic", "titleAngle": 0}},
     "x2": {"field": "hi"},
     "y": {"field": "r", "type": "quantitative", "scale": {"domain": [0.7, 1.3], "range": [251, 192], "nice": false, "zero": false, "clamp": true}, "axis": {"orient": "left", "values": [0.8, 1, 1.2], "labelExpr": "datum.value == 1 ? '0' : format(datum.value, '.1f')", "tickSize": -7, "labelPadding": 12, "title": "Data/MC", "titleFontSize": 13.5, "titleAngle": 270, "titleX": -32, "titleY": 222, "titleAlign": "center", "titleBaseline": "middle"}}
    }},
   {"data": {"name": "rat"}, "transform": [{"filter": "datum.p == 4"}],
    "mark": {"type": "errorbar", "color": "black", "thickness": 2},
    "encoding": {
     "x": {"field": "x", "type": "quantitative", "scale": {"domain": [0, 2], "nice": false, "zero": false}, "axis": {"orient": "bottom", "values": [0.1,0.3,0.5,0.7,0.9,1.1,1.3,1.5,1.7,1.9], "labels": false, "tickSize": -4, "title": null}},
     "y": {"field": "r", "type": "quantitative", "scale": {"domain": [0.7, 1.3], "range": [251, 192], "nice": false, "zero": false, "clamp": true}, "axis": {"orient": "left", "values": [0.75,0.85,0.9,0.95,1.05,1.1,1.15,1.25], "labels": false, "tickSize": -3.5, "title": null}},
     "yError": {"field": "e"}
    }},
   {"data": {"name": "band"}, "transform": [{"filter": "datum.p == 4"}],
    "mark": {"type": "rect", "color": "#ff8cbe", "opacity": 0.45},
    "encoding": {
     "x": {"field": "lo", "type": "quantitative", "scale": {"domain": [0, 2], "nice": false, "zero": false}, "axis": null},
     "x2": {"field": "hi"},
     "y": {"field": "b0", "type": "quantitative", "scale": {"domain": [0.7, 1.3], "range": [251, 192], "nice": false, "zero": false, "clamp": true}, "axis": null},
     "y2": {"field": "b1"}
    }},
   {"data": {"values": [{}]},
    "mark": {"type": "rule", "color": "#ff0000", "strokeWidth": 2},
    "encoding": {"y": {"datum": 1, "type": "quantitative", "scale": {"domain": [0.7, 1.3], "range": [251, 192], "nice": false, "zero": false, "clamp": true}, "axis": null}}}
  ],
  "resolve": {"scale": {"y": "independent"}, "axis": {"x": "independent", "y": "independent"}}
 }
]
}
